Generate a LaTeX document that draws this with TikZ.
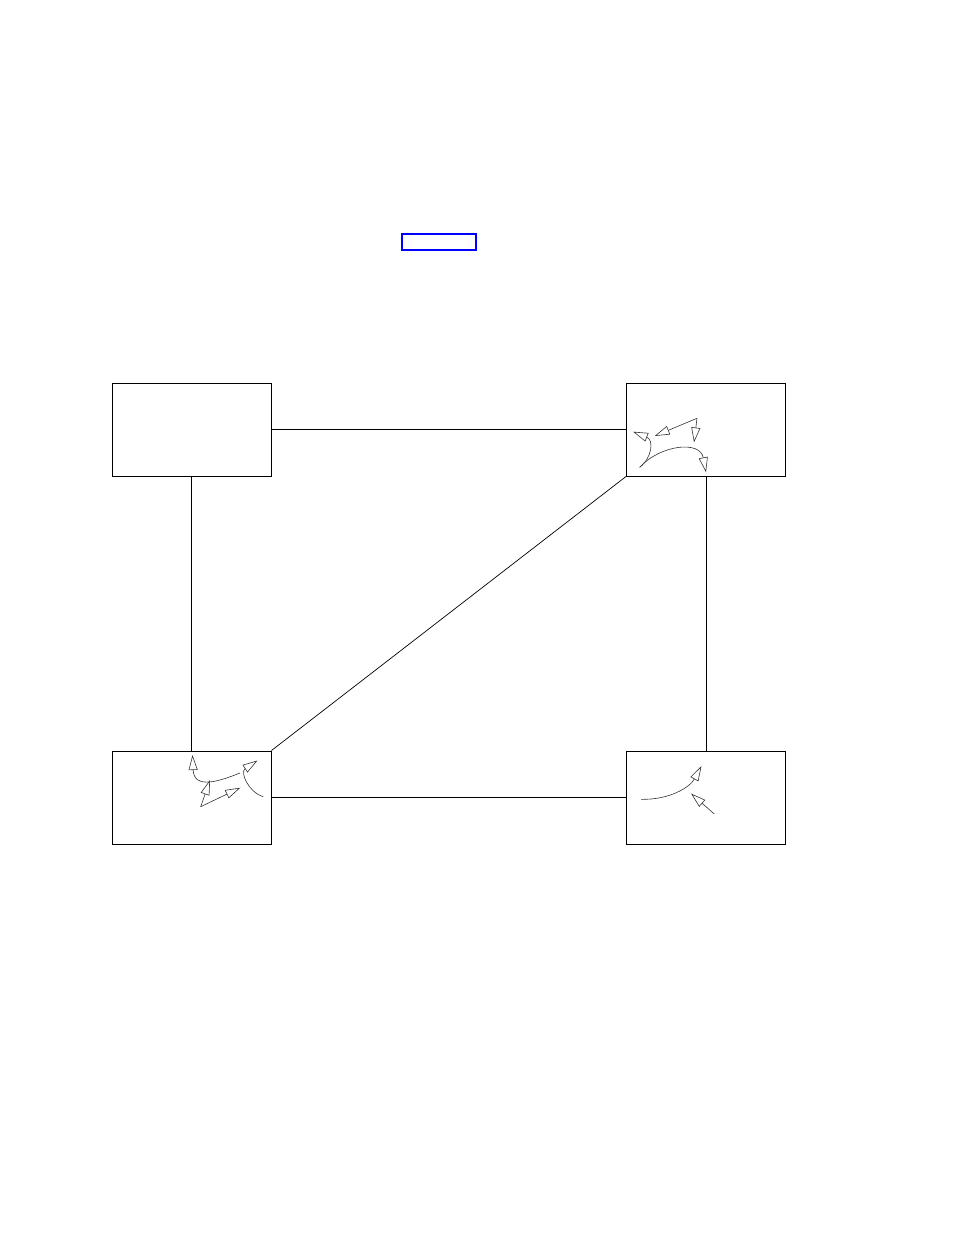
\documentclass[tikz,border=0pt]{standalone}
\usetikzlibrary{arrows.meta}
\begin{document}
\begin{tikzpicture}[x=1pt,y=-1pt,
  box/.style={draw=black, line width=1pt, minimum width=159pt, minimum height=93pt, inner sep=0pt},
  link/.style={draw=black, line width=0.7pt},
  arr/.style={draw=black!80, line width=0.6pt, -{Triangle[open, length=15pt, width=9pt]}},
  bluebox/.style={draw=blue, line width=2pt, minimum width=74pt, minimum height=16pt, inner sep=0pt}]
\useasboundingbox (0,0) rectangle (954,1235);

\node[bluebox] (hdr) at (438.5,242) {};

\node[box] (tl) at (191.5,429.5) {};
\node[box] (tr) at (706,429.5) {};
\node[box] (bl) at (191.5,797.5) {};
\node[box] (br) at (706,797.5) {};

\draw[link] (tl.east) -- (tr.west);
\draw[link] (tl.south) -- (bl.north);
\draw[link] (tr.south) -- (br.north);
\draw[link] (bl.east) -- (br.west);
\draw[link] (bl.north east) -- (tr.south west);

% arrows inside top-right box
\coordinate (trs) at (639.7,467.3);
\coordinate (trv) at (697,418.3);
\draw[arr] (trs) .. controls (652,458) and (654,440) .. (633,431.7);
\draw[arr] (trv) -- (654.7,436);
\draw[arr] (trv) -- (694,442.5);
\draw[arr] (trs) .. controls (660,445) and (700,440) .. (706,472.3);

% arrows inside bottom-left box
\coordinate (blv) at (200.7,806.7);
\draw[arr] (240,773) .. controls (220,781) and (194,790) .. (192.5,755);
\draw[arr] (blv) -- (210,780);
\draw[arr] (blv) -- (240.3,787.7);
\draw[arr] (263.3,796.7) .. controls (248,792) and (240,772) .. (257.5,760.5);

% arrows inside bottom-right box
\draw[arr] (641,799.3) .. controls (670,800) and (690,787) .. (701.5,766);
\draw[arr] (714.3,814) -- (691,793.5);
\end{tikzpicture}
\end{document}
